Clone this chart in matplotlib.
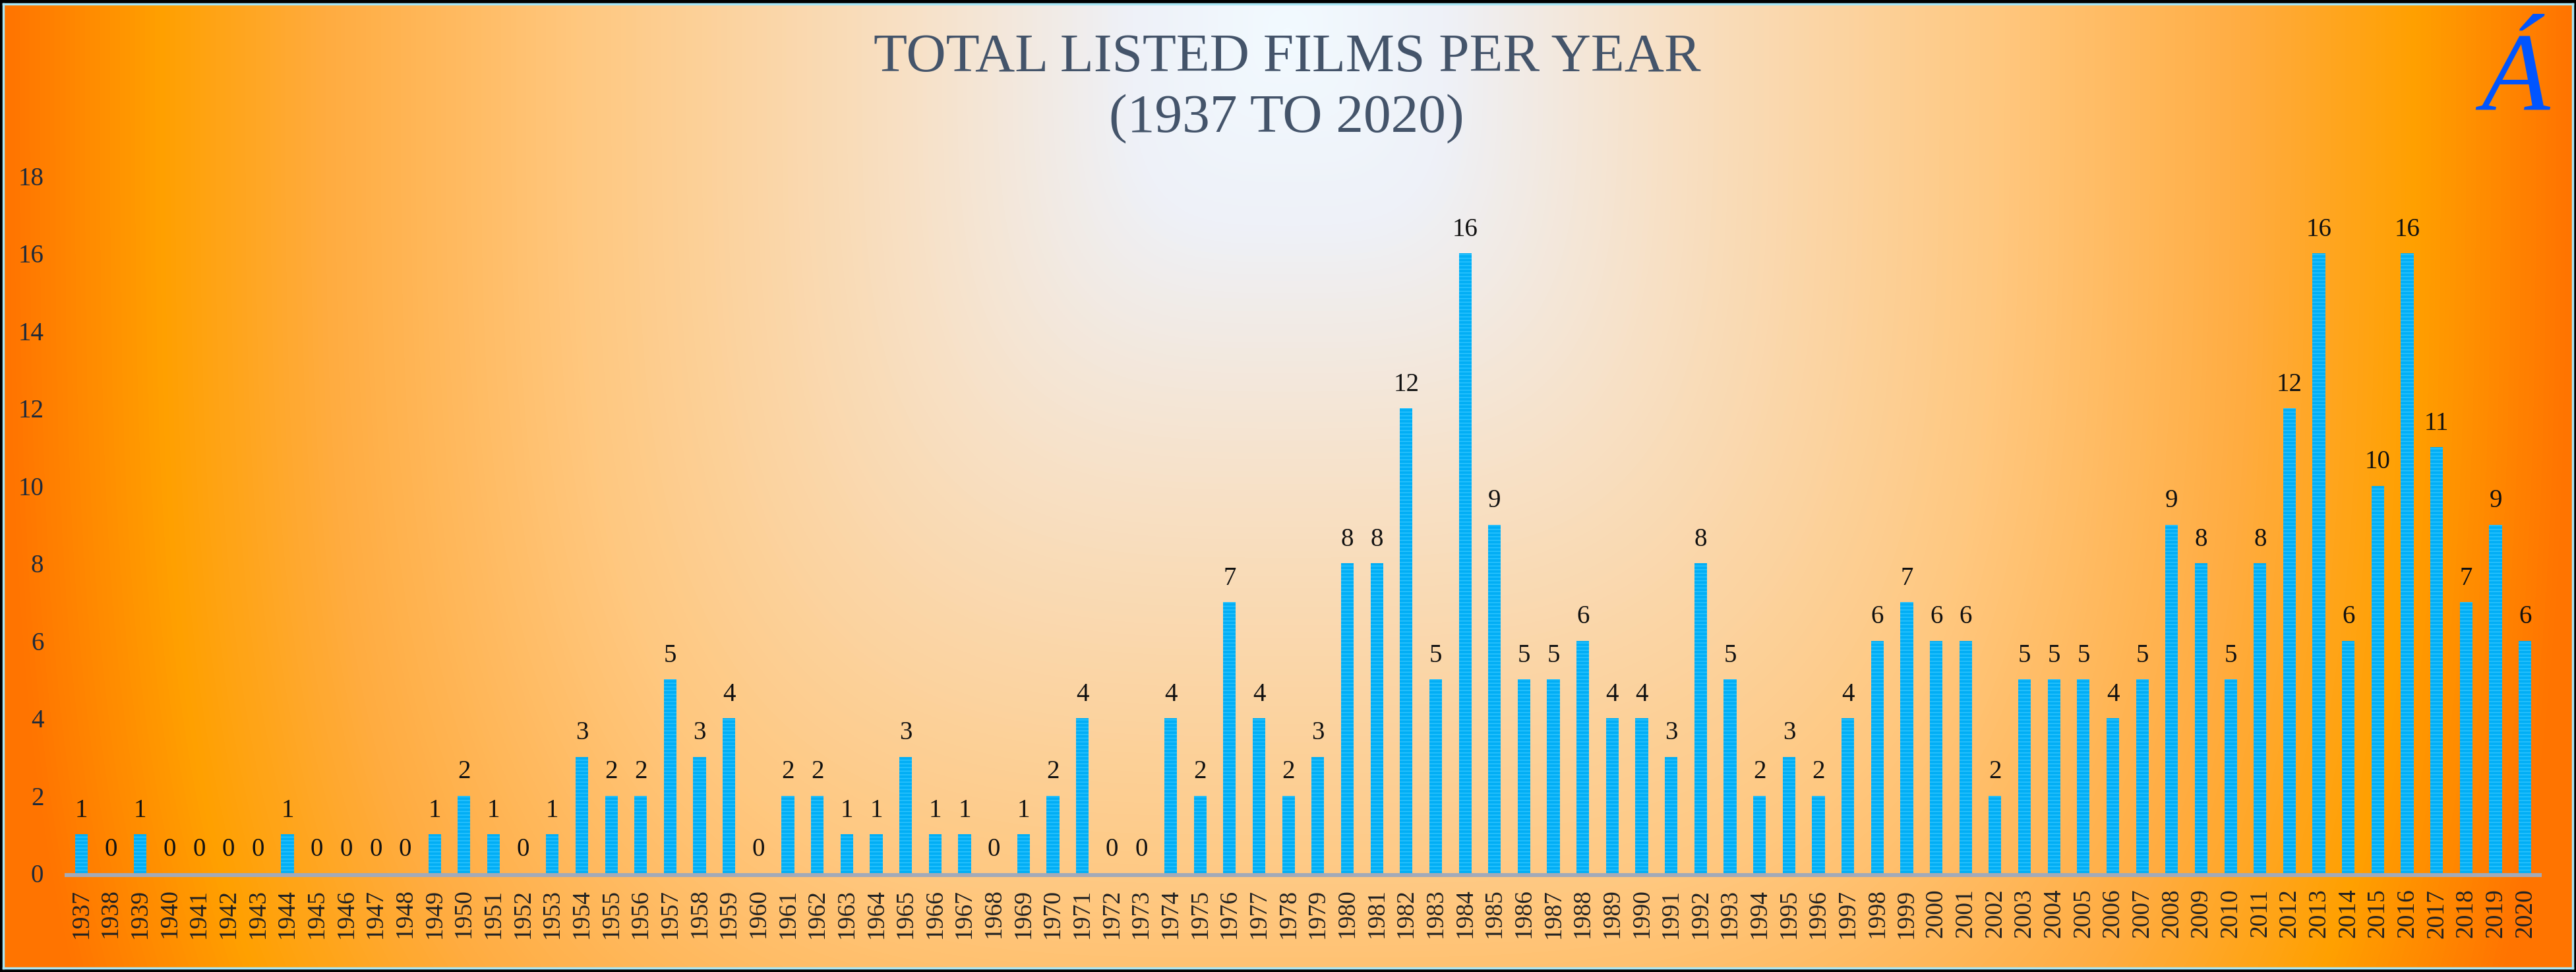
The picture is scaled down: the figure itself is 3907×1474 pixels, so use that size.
import numpy as np
import matplotlib
matplotlib.use("Agg")
import matplotlib.pyplot as plt
from matplotlib.colors import LinearSegmentedColormap

years = list(range(1937, 2021))
films = [1, 0, 1, 0, 0, 0, 0, 1, 0, 0, 0, 0, 1, 2, 1, 0, 1, 3, 2, 2,
         5, 3, 4, 0, 2, 2, 1, 1, 3, 1, 1, 0, 1, 2, 4, 0, 0, 4, 2, 7,
         4, 2, 3, 8, 8, 12, 5, 16, 9, 5, 5, 6, 4, 4, 3, 8, 5, 2, 3, 2,
         4, 6, 7, 6, 6, 2, 5, 5, 5, 4, 5, 9, 8, 5, 8, 12, 16, 6, 10, 16,
         11, 7, 9, 6]
y_ticks = list(range(0, 19, 2))

title_line1 = "TOTAL LISTED FILMS PER YEAR"
title_line2 = "(1937 TO 2020)"

W, H = 3907, 1474
plt.rcParams['hatch.color'] = '#2CC4FF'
plt.rcParams['hatch.linewidth'] = 1.1
serif = ['Liberation Serif', 'DejaVu Serif']

fig = plt.figure(figsize=(W / 100, H / 100), dpi=100, facecolor='black')

# background panel, light at top centre fading to orange at the sides
bg = fig.add_axes([5 / W, 6 / H, (3902 - 5) / W, (1468 - 6) / H])
gx = np.linspace(0, 1, 800)
gy = np.linspace(0, 1, 300)
X, Y = np.meshgrid(gx, gy)
p = 3.5
d = (np.abs((X - 0.5) / 0.5) ** p + np.abs((Y - 0.03) / 1.64) ** p) ** (1 / p)
cmap = LinearSegmentedColormap.from_list('bgfade', [
    (0.0, '#F2FAFF'), (0.12, '#EEF1F8'), (0.3, '#F8E0C4'),
    (0.55, '#FFC880'), (0.75, '#FFAC40'), (0.88, '#FFA000'), (1.0, '#FF7400')])
bg.imshow(np.clip(d, 0, 1), cmap=cmap, vmin=0, vmax=1, aspect='auto',
          extent=[0, 1, 1, 0], interpolation='bilinear')
bg.set_xlim(0, 1)
bg.set_ylim(1, 0)
bg.set_xticks([])
bg.set_yticks([])
for s in bg.spines.values():
    s.set_color('#A8E6F5')
    s.set_linewidth(2.5)

# main chart
ax = fig.add_axes([101 / W, 1 - 1324 / H, (3852 - 101) / W, (1324 - 267) / H])
ax.patch.set_alpha(0)
for side in ['top', 'right', 'left']:
    ax.spines[side].set_visible(False)
ax.spines['bottom'].set_position(('outward', 2))
ax.spines['bottom'].set_color('#A3AAB8')
ax.spines['bottom'].set_linewidth(4.3)

x = np.arange(len(years))
bars = ax.bar(x, films, width=0.43, color='#02AEF5', linewidth=0, hatch='---')

for xi, v in zip(x, films):
    ax.annotate(str(v), (xi, v), xytext=(0, 19), textcoords='offset points',
                ha='center', va='baseline', fontsize=28, family=serif,
                color='#111111')

ax.set_xlim(-0.5, len(years) - 0.5)
ax.set_ylim(0, 18)
ax.set_yticks(y_ticks)
ax.set_yticklabels([str(t) for t in y_ticks], fontsize=28, family=serif,
                   color='#1F2A3A')
ax.set_xticks(x)
ax.set_xticklabels([str(yr) for yr in years], rotation=90, fontsize=27,
                   family=serif, color='#222222')
ax.tick_params(axis='y', length=0, pad=25)
ax.tick_params(axis='x', length=0, pad=15)

fig.text(0.4997, 1 - 108 / H, title_line1, ha='center', va='baseline',
         fontsize=60, family=serif, color='#44546A')
fig.text(0.4995, 1 - 200 / H, title_line2, ha='center', va='baseline',
         fontsize=60, family=serif, color='#44546A')

fig.text(3815 / W, 1 - 167 / H, "Á", ha='center', va='baseline', fontsize=122,
         family=serif, style='italic', color='#0055FF')

fig.savefig('out.png', dpi=100, facecolor='black')
